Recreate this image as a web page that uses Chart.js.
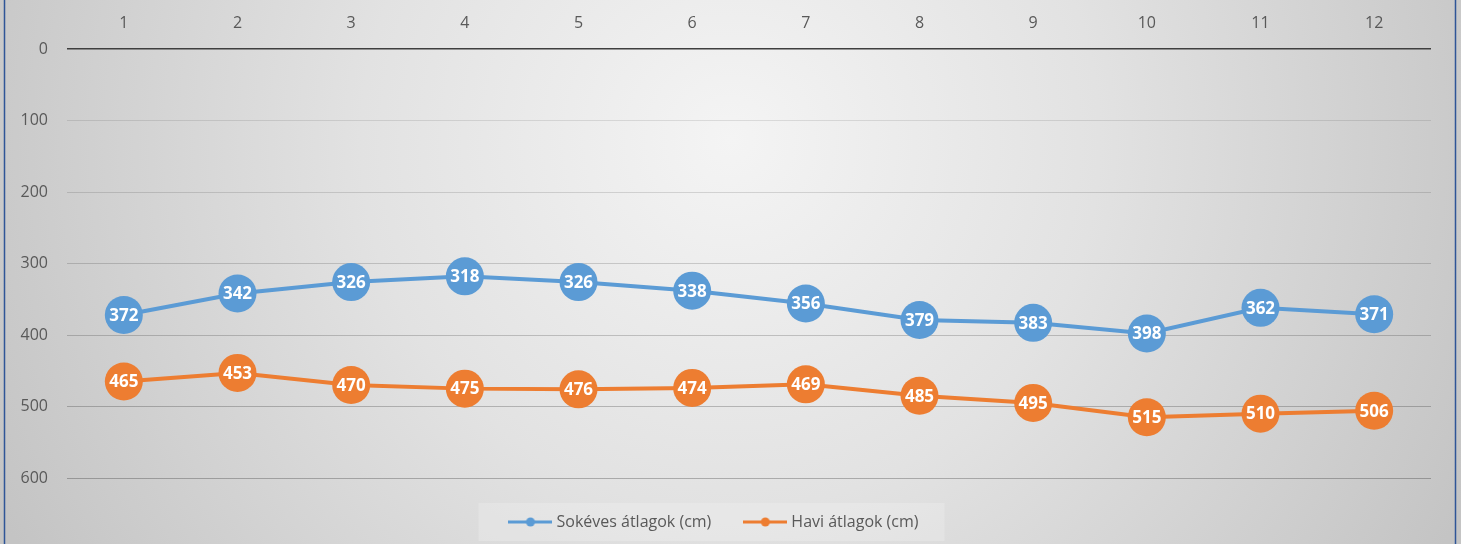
<!DOCTYPE html>
<html>
<head>
<meta charset="utf-8">
<script src="https://cdn.jsdelivr.net/npm/chart.js@4/dist/chart.umd.min.js"></script>
<style>
html,body{margin:0;padding:0;background:#ffffff;overflow:hidden;}
#wrap{width:1461px;height:544px;position:relative;}
</style>
</head>
<body>
<div id="wrap"><canvas id="c"></canvas></div>
<script>
const months = ['1','2','3','4','5','6','7','8','9','10','11','12'];
const longTermAvg = [372,342,326,318,326,338,356,379,383,398,362,371];
const monthlyAvg = [465,453,470,475,476,474,469,485,495,515,510,506];
const yTickValues = [0,100,200,300,400,500,600];
const seriesNames = ['Sokéves átlagok (cm)','Havi átlagok (cm)'];
const seriesColors = ['#5B9BD5','#ED7D31'];

const FONT = '"Open Sans", "Noto Sans", sans-serif';
const TEXT_COLOR = '#595959';

function markerImage(color){
  const cv = document.createElement('canvas');
  cv.width = 44; cv.height = 12;
  const g = cv.getContext('2d');
  g.strokeStyle = color; g.lineWidth = 3;
  g.beginPath(); g.moveTo(0,6); g.lineTo(44,6); g.stroke();
  g.fillStyle = color;
  g.beginPath(); g.arc(22,6,4.5,0,Math.PI*2); g.fill();
  return cv;
}
const markers = seriesColors.map(markerImage);

const bgPlugin = {
  id:'bg',
  beforeDraw(chart){
    const {ctx,width,height} = chart;
    ctx.save();
    const g = ctx.createRadialGradient(width/2, 140, 0, width/2, 140, 820);
    g.addColorStop(0,'#f4f4f4');
    g.addColorStop(0.45,'#e2e2e2');
    g.addColorStop(1,'#c4c4c4');
    ctx.fillStyle = g;
    ctx.fillRect(0,0,width,height);
    const lg = chart.legend;
    if (lg && lg.legendHitBoxes && lg.legendHitBoxes.length){
      const hb = lg.legendHitBoxes;
      const first = hb[0], last = hb[hb.length-1];
      const cy = first.top + first.height/2;
      const x0 = first.left - 34, x1 = last.left + last.width + 26;
      ctx.fillStyle = 'rgba(255,255,255,0.2)';
      ctx.fillRect(x0, cy-19, x1-x0, 38);
    }
    ctx.strokeStyle = '#2f5597';
    ctx.lineWidth = 1.5;
    ctx.beginPath();
    ctx.moveTo(4.5,0); ctx.lineTo(4.5,height);
    ctx.moveTo(1455.5,0); ctx.lineTo(1455.5,height);
    ctx.stroke();
    ctx.restore();
  }
};

const labelPlugin = {
  id:'valueLabels',
  afterDatasetsDraw(chart){
    const {ctx} = chart;
    ctx.save();
    ctx.font = 'bold 17px ' + FONT;
    ctx.fillStyle = '#ffffff';
    ctx.textAlign = 'center';
    ctx.textBaseline = 'middle';
    chart.data.datasets.forEach((ds,i)=>{
      const meta = chart.getDatasetMeta(i);
      meta.data.forEach((pt,j)=>{
        ctx.fillText(String(ds.data[j]), pt.x, pt.y+1);
      });
    });
    ctx.restore();
  }
};

const legendFitPlugin = {
  id:'legendFit',
  afterInit(chart){
    const lg = chart.legend;
    if (!lg || lg._wrapped) return;
    const orig = lg.fit.bind(lg);
    lg.fit = function(){ orig(); this.height = 66; };
    lg._wrapped = true;
  }
};

new Chart(document.getElementById('c'), {
  type:'line',
  data:{
    labels: months,
    datasets:[
      {label: seriesNames[0], data: longTermAvg, borderColor: seriesColors[0], backgroundColor: seriesColors[0],
       borderWidth:4, pointRadius:19, pointHoverRadius:19, pointBorderWidth:0, pointBackgroundColor: seriesColors[0], tension:0, fill:false},
      {label: seriesNames[1], data: monthlyAvg, borderColor: seriesColors[1], backgroundColor: seriesColors[1],
       borderWidth:4, pointRadius:19, pointHoverRadius:19, pointBorderWidth:0, pointBackgroundColor: seriesColors[1], tension:0, fill:false}
    ]
  },
  options:{
    responsive:true,
    maintainAspectRatio:false,
    animation:false,
    devicePixelRatio:1,
    layout:{padding:{left:0,right:30,top:0,bottom:0}},
    scales:{
      x:{
        type:'category',
        position:'top',
        offset:true,
        grid:{display:false, drawTicks:false},
        border:{display:false},
        ticks:{color:TEXT_COLOR, font:{family:FONT,size:16}, padding:16, maxRotation:0},
        afterFit(s){ s.height = 49; }
      },
      y:{
        reverse:true,
        min:0, max:600,
        afterBuildTicks(s){ s.ticks = yTickValues.map(v=>({value:v})); },
        grid:{
          drawTicks:false,
          color(ctx){ const v = ctx.tick ? ctx.tick.value : 0; return v===0 ? '#3f3f3f' : 'rgba(0,0,0,' + (0.07 + 0.03*v/100).toFixed(3) + ')'; },
          lineWidth(ctx){ return ctx.tick && ctx.tick.value===0 ? 1.5 : 1; }
        },
        border:{display:false},
        ticks:{color:TEXT_COLOR, font:{family:FONT,size:16}, padding:19},
        afterFit(s){ s.width = 67; }
      }
    },
    plugins:{
      legend:{
        display:true,
        position:'bottom',
        labels:{
          color:TEXT_COLOR,
          font:{family:FONT,size:16},
          usePointStyle:true,
          pointStyleWidth:36,
          padding:36,
          generateLabels(chart){
            return chart.data.datasets.map((ds,i)=>({
              text: ds.label, fillStyle: ds.borderColor, strokeStyle: ds.borderColor,
              pointStyle: markers[i], lineWidth:0, hidden:false, datasetIndex:i, fontColor: TEXT_COLOR
            }));
          }
        }
      },
      tooltip:{enabled:false}
    }
  },
  plugins:[bgPlugin, labelPlugin, legendFitPlugin]
});
</script>
</body>
</html>
